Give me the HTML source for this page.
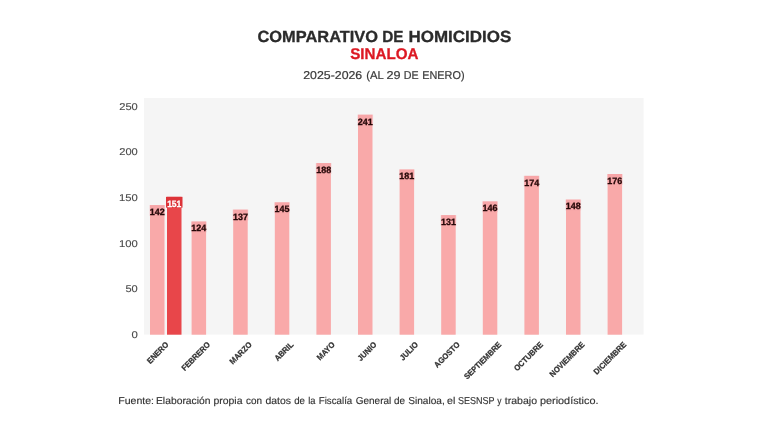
<!DOCTYPE html>
<html><head><meta charset="utf-8"><title>Comparativo de homicidios</title>
<style>
html,body{margin:0;padding:0;background:#fff;}
body{width:768px;height:432px;overflow:hidden;font-family:"Liberation Sans",sans-serif;}
svg{display:block;will-change:transform;}
text{font-family:"Liberation Sans",sans-serif;text-rendering:geometricPrecision;}
.t1{font-size:16.1px;font-weight:bold;fill:#2b2b2b;stroke:#2b2b2b;stroke-width:0.3px;}
.t2{font-size:15.5px;font-weight:bold;fill:#dc1822;stroke:#dc1822;stroke-width:0.3px;}
.t3{font-size:11.4px;fill:#3a3a3a;stroke:#3a3a3a;stroke-width:0.2px;}
.yl{font-size:9.85px;fill:#4a4a4a;stroke:#4a4a4a;stroke-width:0.12px;}
.dl{font-size:9.2px;font-weight:bold;fill:#260808;stroke:#260808;stroke-width:0.3px;}
.xl{font-size:8.1px;font-weight:bold;fill:#333;stroke:#333;stroke-width:0.25px;}
.ft{font-size:10px;fill:#333;stroke:#333;stroke-width:0.15px;}
</style></head><body>
<svg width="768" height="432" viewBox="0 0 768 432">
<rect width="768" height="432" fill="#ffffff"/>
<rect x="144" y="98" width="499.6" height="236.6" fill="#f5f5f5"/>
<rect x="150.00" y="205.05" width="14.5" height="129.65" fill="#f9a9a9"/>
<rect x="149.40" y="205.05" width="15.7" height="10.8" fill="#f4a0a6" fill-opacity="0.35"/>
<text x="157.25" y="214.95" text-anchor="middle" class="dl" textLength="15.0" lengthAdjust="spacingAndGlyphs">142</text>
<rect x="167.00" y="196.84" width="14.5" height="137.86" fill="#e8464a"/>
<rect x="166.00" y="196.84" width="16.5" height="10.8" fill="#dd3338"/>
<text x="174.25" y="206.74" text-anchor="middle" class="dl" style="fill:#fff;stroke:#fff" textLength="14.2" lengthAdjust="spacingAndGlyphs">151</text>
<text transform="translate(169.10,345.20) rotate(-45) scale(0.93,1)" text-anchor="end" class="xl">ENERO</text>
<rect x="191.60" y="221.49" width="14.5" height="113.21" fill="#f9a9a9"/>
<rect x="191.00" y="221.49" width="15.7" height="10.8" fill="#f4a0a6" fill-opacity="0.35"/>
<text x="198.85" y="231.39" text-anchor="middle" class="dl" textLength="15.0" lengthAdjust="spacingAndGlyphs">124</text>
<text transform="translate(210.70,345.20) rotate(-45) scale(0.93,1)" text-anchor="end" class="xl">FEBRERO</text>
<rect x="233.20" y="209.62" width="14.5" height="125.08" fill="#f9a9a9"/>
<rect x="232.60" y="209.62" width="15.7" height="10.8" fill="#f4a0a6" fill-opacity="0.35"/>
<text x="240.45" y="219.52" text-anchor="middle" class="dl" textLength="15.0" lengthAdjust="spacingAndGlyphs">137</text>
<text transform="translate(252.30,345.20) rotate(-45) scale(0.93,1)" text-anchor="end" class="xl">MARZO</text>
<rect x="274.80" y="202.31" width="14.5" height="132.38" fill="#f9a9a9"/>
<rect x="274.20" y="202.31" width="15.7" height="10.8" fill="#f4a0a6" fill-opacity="0.35"/>
<text x="282.05" y="212.22" text-anchor="middle" class="dl" textLength="15.0" lengthAdjust="spacingAndGlyphs">145</text>
<text transform="translate(293.90,345.20) rotate(-45) scale(0.93,1)" text-anchor="end" class="xl">ABRIL</text>
<rect x="316.40" y="163.06" width="14.5" height="171.64" fill="#f9a9a9"/>
<rect x="315.80" y="163.06" width="15.7" height="10.8" fill="#f4a0a6" fill-opacity="0.35"/>
<text x="323.65" y="172.96" text-anchor="middle" class="dl" textLength="15.0" lengthAdjust="spacingAndGlyphs">188</text>
<text transform="translate(335.50,345.20) rotate(-45) scale(0.93,1)" text-anchor="end" class="xl">MAYO</text>
<rect x="358.00" y="114.67" width="14.5" height="220.03" fill="#f9a9a9"/>
<rect x="357.40" y="114.67" width="15.7" height="10.8" fill="#f4a0a6" fill-opacity="0.35"/>
<text x="365.25" y="124.57" text-anchor="middle" class="dl" textLength="15.0" lengthAdjust="spacingAndGlyphs">241</text>
<text transform="translate(377.10,345.20) rotate(-45) scale(0.93,1)" text-anchor="end" class="xl">JUNIO</text>
<rect x="399.60" y="169.45" width="14.5" height="165.25" fill="#f9a9a9"/>
<rect x="399.00" y="169.45" width="15.7" height="10.8" fill="#f4a0a6" fill-opacity="0.35"/>
<text x="406.85" y="179.35" text-anchor="middle" class="dl" textLength="15.0" lengthAdjust="spacingAndGlyphs">181</text>
<text transform="translate(418.70,345.20) rotate(-45) scale(0.93,1)" text-anchor="end" class="xl">JULIO</text>
<rect x="441.20" y="215.10" width="14.5" height="119.60" fill="#f9a9a9"/>
<rect x="440.60" y="215.10" width="15.7" height="10.8" fill="#f4a0a6" fill-opacity="0.35"/>
<text x="448.45" y="225.00" text-anchor="middle" class="dl" textLength="15.0" lengthAdjust="spacingAndGlyphs">131</text>
<text transform="translate(460.30,345.20) rotate(-45) scale(0.93,1)" text-anchor="end" class="xl">AGOSTO</text>
<rect x="482.80" y="201.40" width="14.5" height="133.30" fill="#f9a9a9"/>
<rect x="482.20" y="201.40" width="15.7" height="10.8" fill="#f4a0a6" fill-opacity="0.35"/>
<text x="490.05" y="211.30" text-anchor="middle" class="dl" textLength="15.0" lengthAdjust="spacingAndGlyphs">146</text>
<text transform="translate(501.90,345.20) rotate(-45) scale(0.93,1)" text-anchor="end" class="xl">SEPTIEMBRE</text>
<rect x="524.40" y="175.84" width="14.5" height="158.86" fill="#f9a9a9"/>
<rect x="523.80" y="175.84" width="15.7" height="10.8" fill="#f4a0a6" fill-opacity="0.35"/>
<text x="531.65" y="185.74" text-anchor="middle" class="dl" textLength="15.0" lengthAdjust="spacingAndGlyphs">174</text>
<text transform="translate(543.50,345.20) rotate(-45) scale(0.93,1)" text-anchor="end" class="xl">OCTUBRE</text>
<rect x="566.00" y="199.58" width="14.5" height="135.12" fill="#f9a9a9"/>
<rect x="565.40" y="199.58" width="15.7" height="10.8" fill="#f4a0a6" fill-opacity="0.35"/>
<text x="573.25" y="209.48" text-anchor="middle" class="dl" textLength="15.0" lengthAdjust="spacingAndGlyphs">148</text>
<text transform="translate(585.10,345.20) rotate(-45) scale(0.93,1)" text-anchor="end" class="xl">NOVIEMBRE</text>
<rect x="607.60" y="174.01" width="14.5" height="160.69" fill="#f9a9a9"/>
<rect x="607.00" y="174.01" width="15.7" height="10.8" fill="#f4a0a6" fill-opacity="0.35"/>
<text x="614.85" y="183.91" text-anchor="middle" class="dl" textLength="15.0" lengthAdjust="spacingAndGlyphs">176</text>
<text transform="translate(626.70,345.20) rotate(-45) scale(0.93,1)" text-anchor="end" class="xl">DICIEMBRE</text>
<text id="w0" x="257.50" y="41.50" class="t1" textLength="120.51" lengthAdjust="spacingAndGlyphs">COMPARATIVO</text>
<text id="w1" x="382.19" y="41.50" class="t1" textLength="21.34" lengthAdjust="spacingAndGlyphs">DE</text>
<text id="w2" x="408.49" y="41.50" class="t1" textLength="102.77" lengthAdjust="spacingAndGlyphs">HOMICIDIOS</text>
<text id="w3" x="350.25" y="59.45" class="t2" textLength="68.25" lengthAdjust="spacingAndGlyphs">SINALOA</text>
<text id="w4" x="303.24" y="79.10" class="t3" textLength="59.01" lengthAdjust="spacingAndGlyphs">2025-2026</text>
<text id="w5" x="366.21" y="79.10" class="t3" textLength="17.55" lengthAdjust="spacingAndGlyphs">(AL</text>
<text id="w6" x="386.47" y="79.10" class="t3" textLength="14.06" lengthAdjust="spacingAndGlyphs">29</text>
<text id="w7" x="403.70" y="79.10" class="t3" textLength="14.83" lengthAdjust="spacingAndGlyphs">DE</text>
<text id="w8" x="422.22" y="79.10" class="t3" textLength="42.30" lengthAdjust="spacingAndGlyphs">ENERO)</text>
<text id="w9" x="118.21" y="403.90" class="ft" textLength="35.83" lengthAdjust="spacingAndGlyphs">Fuente:</text>
<text id="w10" x="155.99" y="403.90" class="ft" textLength="54.52" lengthAdjust="spacingAndGlyphs">Elaboración</text>
<text id="w11" x="213.49" y="403.90" class="ft" textLength="29.01" lengthAdjust="spacingAndGlyphs">propia</text>
<text id="w12" x="245.99" y="403.90" class="ft" textLength="16.04" lengthAdjust="spacingAndGlyphs">con</text>
<text id="w13" x="265.49" y="403.90" class="ft" textLength="25.51" lengthAdjust="spacingAndGlyphs">datos</text>
<text id="w14" x="294.24" y="403.90" class="ft" textLength="10.78" lengthAdjust="spacingAndGlyphs">de</text>
<text id="w15" x="308.22" y="403.90" class="ft" textLength="7.28" lengthAdjust="spacingAndGlyphs">la</text>
<text id="w16" x="318.74" y="403.90" class="ft" textLength="33.51" lengthAdjust="spacingAndGlyphs">Fiscalía</text>
<text id="w17" x="355.73" y="403.90" class="ft" textLength="35.54" lengthAdjust="spacingAndGlyphs">General</text>
<text id="w18" x="393.97" y="403.90" class="ft" textLength="11.07" lengthAdjust="spacingAndGlyphs">de</text>
<text id="w19" x="408.23" y="403.90" class="ft" textLength="36.54" lengthAdjust="spacingAndGlyphs">Sinaloa,</text>
<text id="w20" x="446.97" y="403.90" class="ft" textLength="8.33" lengthAdjust="spacingAndGlyphs">el</text>
<text id="w21" x="458.00" y="403.90" class="ft" textLength="36.51" lengthAdjust="spacingAndGlyphs">SESNSP</text>
<text id="w22" x="497.25" y="403.90" class="ft" textLength="4.26" lengthAdjust="spacingAndGlyphs">y</text>
<text id="w23" x="504.75" y="403.90" class="ft" textLength="32.26" lengthAdjust="spacingAndGlyphs">trabajo</text>
<text id="w24" x="539.98" y="403.90" class="ft" textLength="58.54" lengthAdjust="spacingAndGlyphs">periodístico.</text>
<text id="w25" x="131.47" y="337.85" class="yl" textLength="6.33" lengthAdjust="spacingAndGlyphs">0</text>
<text id="w26" x="125.47" y="292.20" class="yl" textLength="12.31" lengthAdjust="spacingAndGlyphs">50</text>
<text id="w27" x="118.95" y="246.55" class="yl" textLength="18.83" lengthAdjust="spacingAndGlyphs">100</text>
<text id="w28" x="118.95" y="200.90" class="yl" textLength="18.83" lengthAdjust="spacingAndGlyphs">150</text>
<text id="w29" x="119.22" y="155.25" class="yl" textLength="18.55" lengthAdjust="spacingAndGlyphs">200</text>
<text id="w30" x="119.22" y="109.60" class="yl" textLength="18.55" lengthAdjust="spacingAndGlyphs">250</text>
</svg>
</body></html>
